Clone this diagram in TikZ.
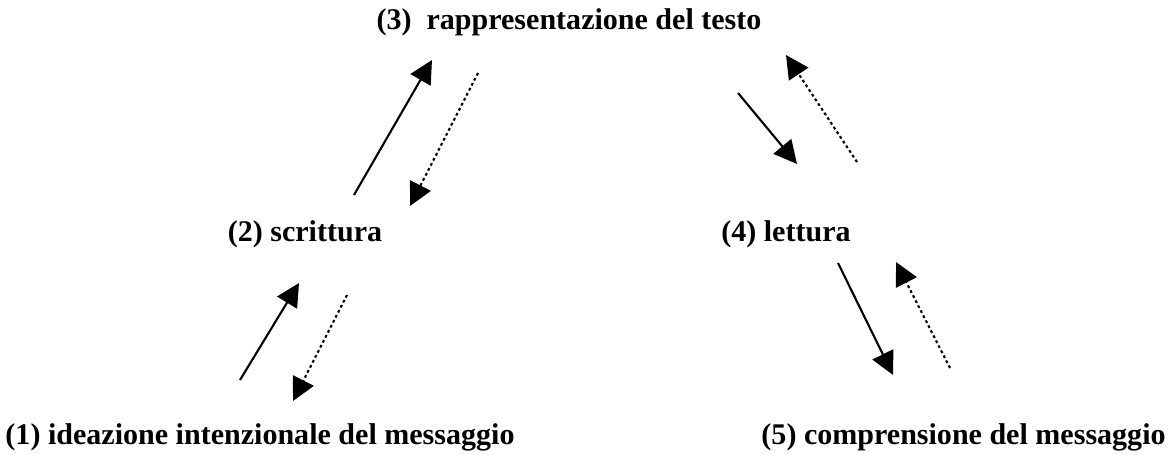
\documentclass[tikz,border=0pt]{standalone}
\usepackage{fontspec}
\setmainfont{Liberation Serif}
\usetikzlibrary{arrows.meta}
\begin{document}
\begin{tikzpicture}[x=0.02cm,y=-0.02cm,
  lbl/.style={font=\fontsize{17.1}{19}\selectfont\bfseries, inner sep=0pt, anchor=center},
  solidarr/.style={line width=1.2pt, -{Triangle[length=0.46cm,width=0.46cm]}},
  dotarr/.style={line width=1.2pt, dash pattern=on 1.6pt off 1.6pt, -{Triangle[length=0.46cm,width=0.46cm]}}]
\useasboundingbox (0,0) rectangle (1171,455);
\node[lbl] (n3) at (569,22) {(3)\ \ rappresentazione del testo};
\node[lbl] (n2) at (305,234) {(2) scrittura};
\node[lbl] (n4) at (786,234) {(4) lettura};
\node[lbl] (n1) at (260,437) {(1) ideazione intenzionale del messaggio};
\node[lbl, anchor=east] (n5) at (1166,437) {(5) comprensione del messaggio};
% coordinates
\coordinate (a1s) at (354,195); \coordinate (a1e) at (432,60);
\coordinate (a2s) at (478,73);  \coordinate (a2e) at (410,206);
\coordinate (a3s) at (738,93);  \coordinate (a3e) at (797,164);
\coordinate (a4s) at (857,162); \coordinate (a4e) at (786,55);
\coordinate (a5s) at (240,380); \coordinate (a5e) at (299,283);
\coordinate (a6s) at (347,295); \coordinate (a6e) at (293,401);
\coordinate (a7s) at (838,263); \coordinate (a7e) at (893,375);
\coordinate (a8s) at (950,368); \coordinate (a8e) at (896,262);
\draw[solidarr] (a1s) -- (a1e);
\draw[dotarr] (a2s) -- (a2e);
\draw[solidarr] (a3s) -- (a3e);
\draw[dotarr] (a4s) -- (a4e);
\draw[solidarr] (a5s) -- (a5e);
\draw[dotarr] (a6s) -- (a6e);
\draw[solidarr] (a7s) -- (a7e);
\draw[dotarr] (a8s) -- (a8e);
\end{tikzpicture}
\end{document}
